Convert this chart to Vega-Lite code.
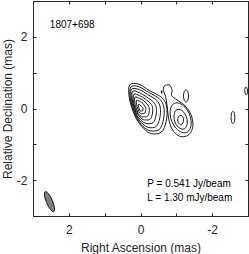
{
"$schema": "https://vega.github.io/schema/vega-lite/v6.json",
"width": 215, "height": 215,
"autosize": {"type": "none"},
"padding": {"left": 33, "top": 1, "right": 1, "bottom": 38},
"background": "white",
"config": {
  "view": {"stroke": "#262626", "strokeWidth": 1},
  "font": "Liberation Sans",
  "axis": {"domainColor": "#262626", "tickColor": "#262626", "labelColor": "#262626", "titleColor": "#262626",
           "labelFont": "Liberation Sans", "titleFont": "Liberation Sans", "labelFontSize": 12, "titleFontSize": 12,
           "titleFontWeight": "normal", "grid": false, "domainWidth": 1, "tickWidth": 1, "labelOverlap": false}
},
"datasets": {
  "contours": [
    {"c":"k1","i":1,"x":0.30,"y":0.66},{"c":"k1","i":2,"x":0.05,"y":0.68},{"c":"k1","i":3,"x":-0.25,"y":0.50},{"c":"k1","i":4,"x":-0.60,"y":0.30},{"c":"k1","i":5,"x":-0.73,"y":0.05},{"c":"k1","i":6,"x":-0.72,"y":-0.35},{"c":"k1","i":7,"x":-0.58,"y":-0.66},{"c":"k1","i":8,"x":-0.30,"y":-0.70},{"c":"k1","i":9,"x":-0.08,"y":-0.55},{"c":"k1","i":10,"x":0.12,"y":-0.28},{"c":"k1","i":11,"x":0.24,"y":0.02},{"c":"k1","i":12,"x":0.32,"y":0.35},
    {"c":"k2","i":1,"x":0.27,"y":0.60},{"c":"k2","i":2,"x":0.05,"y":0.61},{"c":"k2","i":3,"x":-0.23,"y":0.45},{"c":"k2","i":4,"x":-0.53,"y":0.27},{"c":"k2","i":5,"x":-0.65,"y":0.04},{"c":"k2","i":6,"x":-0.64,"y":-0.31},{"c":"k2","i":7,"x":-0.52,"y":-0.59},{"c":"k2","i":8,"x":-0.27,"y":-0.62},{"c":"k2","i":9,"x":-0.07,"y":-0.50},{"c":"k2","i":10,"x":0.11,"y":-0.25},{"c":"k2","i":11,"x":0.22,"y":0.02},{"c":"k2","i":12,"x":0.29,"y":0.32},
    {"c":"k3","i":1,"x":0.25,"y":0.54},{"c":"k3","i":2,"x":0.04,"y":0.53},{"c":"k3","i":3,"x":-0.20,"y":0.39},{"c":"k3","i":4,"x":-0.45,"y":0.23},{"c":"k3","i":5,"x":-0.55,"y":0.04},{"c":"k3","i":6,"x":-0.54,"y":-0.26},{"c":"k3","i":7,"x":-0.44,"y":-0.50},{"c":"k3","i":8,"x":-0.23,"y":-0.53},{"c":"k3","i":9,"x":-0.06,"y":-0.43},{"c":"k3","i":10,"x":0.10,"y":-0.23},{"c":"k3","i":11,"x":0.20,"y":0.02},{"c":"k3","i":12,"x":0.26,"y":0.29},
    {"c":"k4","i":1,"x":0.22,"y":0.48},{"c":"k4","i":2,"x":0.03,"y":0.44},{"c":"k4","i":3,"x":-0.16,"y":0.33},{"c":"k4","i":4,"x":-0.36,"y":0.18},{"c":"k4","i":5,"x":-0.44,"y":0.03},{"c":"k4","i":6,"x":-0.43,"y":-0.21},{"c":"k4","i":7,"x":-0.35,"y":-0.40},{"c":"k4","i":8,"x":-0.18,"y":-0.42},{"c":"k4","i":9,"x":-0.05,"y":-0.36},{"c":"k4","i":10,"x":0.09,"y":-0.20},{"c":"k4","i":11,"x":0.17,"y":0.01},{"c":"k4","i":12,"x":0.23,"y":0.25},
    {"c":"k5","i":1,"x":0.18,"y":0.40},{"c":"k5","i":2,"x":0.03,"y":0.36},{"c":"k5","i":3,"x":-0.13,"y":0.27},{"c":"k5","i":4,"x":-0.28,"y":0.14},{"c":"k5","i":5,"x":-0.34,"y":0.02},{"c":"k5","i":6,"x":-0.33,"y":-0.16},{"c":"k5","i":7,"x":-0.27,"y":-0.30},{"c":"k5","i":8,"x":-0.14,"y":-0.32},{"c":"k5","i":9,"x":-0.04,"y":-0.29},{"c":"k5","i":10,"x":0.07,"y":-0.17},{"c":"k5","i":11,"x":0.15,"y":0.01},{"c":"k5","i":12,"x":0.20,"y":0.21},
    {"c":"k6","i":1,"x":0.15,"y":0.32},{"c":"k6","i":2,"x":0.02,"y":0.28},{"c":"k6","i":3,"x":-0.10,"y":0.21},{"c":"k6","i":4,"x":-0.20,"y":0.10},{"c":"k6","i":5,"x":-0.24,"y":0.02},{"c":"k6","i":6,"x":-0.24,"y":-0.12},{"c":"k6","i":7,"x":-0.19,"y":-0.22},{"c":"k6","i":8,"x":-0.10,"y":-0.23},{"c":"k6","i":9,"x":-0.03,"y":-0.23},{"c":"k6","i":10,"x":0.06,"y":-0.14},{"c":"k6","i":11,"x":0.12,"y":0.01},{"c":"k6","i":12,"x":0.16,"y":0.17},
    {"c":"k7","i":1,"x":0.11,"y":0.23},{"c":"k7","i":2,"x":0.01,"y":0.19},{"c":"k7","i":3,"x":-0.07,"y":0.14},{"c":"k7","i":4,"x":-0.12,"y":0.06},{"c":"k7","i":5,"x":-0.15,"y":0.01},{"c":"k7","i":6,"x":-0.14,"y":-0.07},{"c":"k7","i":7,"x":-0.12,"y":-0.13},{"c":"k7","i":8,"x":-0.06,"y":-0.14},{"c":"k7","i":9,"x":-0.02,"y":-0.15},{"c":"k7","i":10,"x":0.04,"y":-0.10},{"c":"k7","i":11,"x":0.08,"y":0.01},{"c":"k7","i":12,"x":0.11,"y":0.12},
    {"c":"k8","i":1,"x":0.05,"y":0.12},{"c":"k8","i":2,"x":0.01,"y":0.10},{"c":"k8","i":3,"x":-0.03,"y":0.05},{"c":"k8","i":4,"x":-0.06,"y":0.03},{"c":"k8","i":5,"x":-0.07,"y":0.01},{"c":"k8","i":6,"x":-0.07,"y":-0.04},{"c":"k8","i":7,"x":-0.06,"y":-0.07},{"c":"k8","i":8,"x":-0.03,"y":-0.07},{"c":"k8","i":9,"x":-0.01,"y":-0.08},{"c":"k8","i":10,"x":0.02,"y":-0.05},{"c":"k8","i":11,"x":0.04,"y":0.00},{"c":"k8","i":12,"x":0.06,"y":0.06},
    {"c":"s1","i":1,"x":-0.66,"y":0.62},{"c":"s1","i":2,"x":-0.80,"y":0.66},{"c":"s1","i":3,"x":-0.88,"y":0.52},{"c":"s1","i":4,"x":-0.87,"y":0.36},{"c":"s1","i":5,"x":-1.02,"y":0.24},{"c":"s1","i":6,"x":-1.26,"y":0.06},{"c":"s1","i":7,"x":-1.42,"y":-0.20},{"c":"s1","i":8,"x":-1.46,"y":-0.50},{"c":"s1","i":9,"x":-1.36,"y":-0.72},{"c":"s1","i":10,"x":-1.16,"y":-0.79},{"c":"s1","i":11,"x":-0.96,"y":-0.68},{"c":"s1","i":12,"x":-0.83,"y":-0.46},{"c":"s1","i":13,"x":-0.77,"y":-0.18},{"c":"s1","i":14,"x":-0.74,"y":0.10},{"c":"s1","i":15,"x":-0.70,"y":0.34},{"c":"s1","i":16,"x":-0.64,"y":0.50},
    {"c":"s2","i":1,"x":-0.84,"y":-0.26},{"c":"s2","i":2,"x":-0.83,"y":-0.05},{"c":"s2","i":3,"x":-0.89,"y":0.10},{"c":"s2","i":4,"x":-1.02,"y":0.16},{"c":"s2","i":5,"x":-1.17,"y":0.10},{"c":"s2","i":6,"x":-1.31,"y":-0.05},{"c":"s2","i":7,"x":-1.40,"y":-0.26},{"c":"s2","i":8,"x":-1.41,"y":-0.47},{"c":"s2","i":9,"x":-1.35,"y":-0.62},{"c":"s2","i":10,"x":-1.23,"y":-0.68},{"c":"s2","i":11,"x":-1.07,"y":-0.62},{"c":"s2","i":12,"x":-0.93,"y":-0.47},
    {"c":"s3","i":1,"x":-0.94,"y":-0.30},{"c":"s3","i":2,"x":-0.94,"y":-0.16},{"c":"s3","i":3,"x":-0.98,"y":-0.06},{"c":"s3","i":4,"x":-1.06,"y":-0.02},{"c":"s3","i":5,"x":-1.16,"y":-0.06},{"c":"s3","i":6,"x":-1.25,"y":-0.16},{"c":"s3","i":7,"x":-1.30,"y":-0.30},{"c":"s3","i":8,"x":-1.30,"y":-0.44},{"c":"s3","i":9,"x":-1.26,"y":-0.54},{"c":"s3","i":10,"x":-1.18,"y":-0.58},{"c":"s3","i":11,"x":-1.08,"y":-0.54},{"c":"s3","i":12,"x":-0.99,"y":-0.44},
    {"c":"s4","i":1,"x":-1.04,"y":-0.32},{"c":"s4","i":2,"x":-1.06,"y":-0.23},{"c":"s4","i":3,"x":-1.12,"y":-0.19},{"c":"s4","i":4,"x":-1.18,"y":-0.23},{"c":"s4","i":5,"x":-1.20,"y":-0.32},{"c":"s4","i":6,"x":-1.18,"y":-0.41},{"c":"s4","i":7,"x":-1.12,"y":-0.45},{"c":"s4","i":8,"x":-1.06,"y":-0.41},
    {"c":"e1","i":1,"x":-1.20,"y":0.35},{"c":"e1","i":2,"x":-1.22,"y":0.47},{"c":"e1","i":3,"x":-1.27,"y":0.52},{"c":"e1","i":4,"x":-1.32,"y":0.47},{"c":"e1","i":5,"x":-1.34,"y":0.35},{"c":"e1","i":6,"x":-1.32,"y":0.23},{"c":"e1","i":7,"x":-1.27,"y":0.18},{"c":"e1","i":8,"x":-1.22,"y":0.23},
    {"c":"e2","i":1,"x":-2.53,"y":-0.25},{"c":"e2","i":2,"x":-2.54,"y":-0.13},{"c":"e2","i":3,"x":-2.58,"y":-0.08},{"c":"e2","i":4,"x":-2.62,"y":-0.13},{"c":"e2","i":5,"x":-2.63,"y":-0.25},{"c":"e2","i":6,"x":-2.62,"y":-0.37},{"c":"e2","i":7,"x":-2.58,"y":-0.42},{"c":"e2","i":8,"x":-2.54,"y":-0.37},
    {"c":"e3","i":1,"x":-2.91,"y":0.50},{"c":"e3","i":2,"x":-2.92,"y":0.57},{"c":"e3","i":3,"x":-2.95,"y":0.60},{"c":"e3","i":4,"x":-2.98,"y":0.55},{"c":"e3","i":5,"x":-2.99,"y":0.48},{"c":"e3","i":6,"x":-2.98,"y":0.41},{"c":"e3","i":7,"x":-2.95,"y":0.38},{"c":"e3","i":8,"x":-2.92,"y":0.43},
    {"c":"d1","i":1,"x":-0.58,"y":0.46},{"c":"d1","i":2,"x":-0.59,"y":0.50},{"c":"d1","i":3,"x":-0.60,"y":0.46},{"c":"d1","i":4,"x":-0.59,"y":0.42}
  ],
  "beam": [{"x": 2.54, "y": -2.6}],
  "notes": [
    {"x": 2.53, "y": 2.33, "t": "1807+698"},
    {"x": -0.19, "y": -2.11, "t": "P = 0.541 Jy/beam"},
    {"x": -0.19, "y": -2.50, "t": "L = 1.30 mJy/beam"}
  ]
},
"layer": [
  {
    "data": {"name": "contours"},
    "mark": {"type": "line", "interpolate": "cardinal-closed", "stroke": "black", "strokeWidth": 0.9, "clip": true},
    "encoding": {
      "x": {"field": "x", "type": "quantitative", "scale": {"domain": [-3, 3], "reverse": true, "nice": false, "zero": false},
            "axis": {"orient": "bottom", "values": [-3, -2, -1, 0, 1, 2, 3], "labelExpr": "datum.value % 2 === 0 ? toString(datum.value) : ''",
                     "tickSize": -3, "labelPadding": 11, "title": "Right Ascension (mas)", "titlePadding": 7}},
      "y": {"field": "y", "type": "quantitative", "scale": {"domain": [-3, 3], "nice": false, "zero": false},
            "axis": {"orient": "left", "values": [-3, -2, -1, 0, 1, 2, 3], "labelExpr": "datum.value % 2 === 0 ? toString(datum.value) : ''",
                     "tickSize": -3, "labelPadding": 9, "title": "Relative Declination (mas)", "titlePadding": 2}},
      "detail": {"field": "c"},
      "order": {"field": "i", "type": "quantitative"}
    }
  },
  {
    "data": {"name": "notes"},
    "mark": {"type": "text", "align": "left", "baseline": "middle", "fontSize": 10, "font": "Liberation Sans", "color": "black"},
    "encoding": {
      "x": {"field": "x", "type": "quantitative", "scale": {"domain": [-3, 3], "reverse": true, "nice": false, "zero": false},
            "axis": {"orient": "top", "values": [-3, -2, -1, 0, 1, 2, 3], "labels": false, "tickSize": -3, "title": null}},
      "y": {"field": "y", "type": "quantitative", "scale": {"domain": [-3, 3], "nice": false, "zero": false},
            "axis": {"orient": "right", "values": [-3, -2, -1, 0, 1, 2, 3], "labels": false, "tickSize": -3, "title": null}},
      "text": {"field": "t"}
    }
  },
  {
    "data": {"name": "beam"},
    "mark": {"type": "point", "shape": "M 0 -1 A 0.28 1 0 1 1 0 1 A 0.28 1 0 1 1 0 -1 Z", "size": 470, "angle": 337, "filled": true,
             "fill": "#7f7f7f", "stroke": "black", "strokeWidth": 0.8, "opacity": 1},
    "encoding": {
      "x": {"field": "x", "type": "quantitative", "scale": {"domain": [-3, 3], "reverse": true, "nice": false, "zero": false}, "axis": null},
      "y": {"field": "y", "type": "quantitative", "scale": {"domain": [-3, 3], "nice": false, "zero": false}, "axis": null}
    }
  }
],
"resolve": {"axis": {"x": "independent", "y": "independent"}}
}
